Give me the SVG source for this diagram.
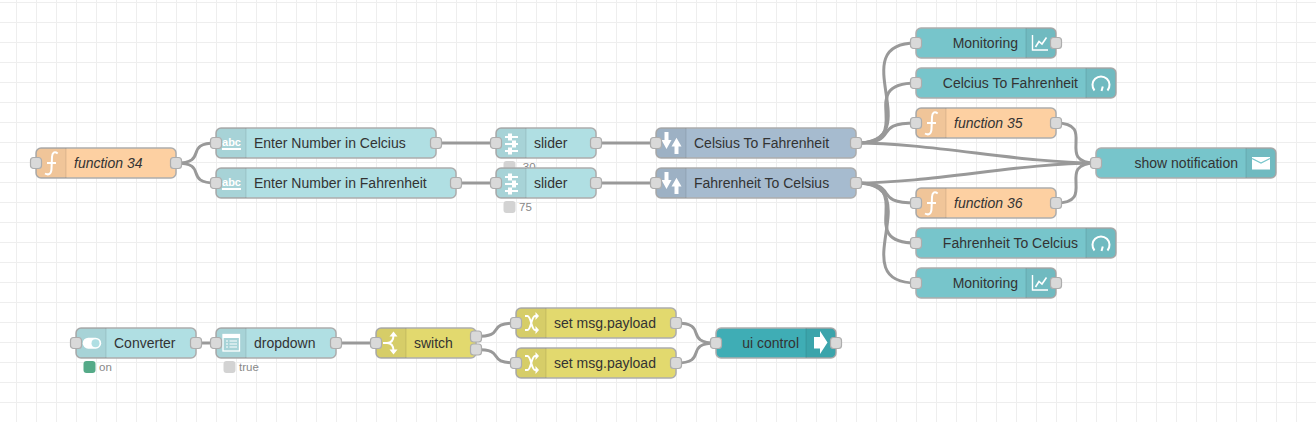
<svg xmlns="http://www.w3.org/2000/svg" width="1316" height="422" viewBox="0 0 1316 422">
<style>
text{font-family:"Liberation Sans",Arial,sans-serif;font-size:14px;fill:#333}
.it{font-style:italic}
.end{text-anchor:end}
.st{font-size:11.5px;fill:#888}
.body{stroke:#adadad;stroke-width:1.5}
.fn{fill:#fdd0a2}.ui{fill:#b0dfe3}.http{fill:#a6bbcf}.dash{fill:#77c5cb}.chg{fill:#e2d96e}.ctl{fill:#3fadb5}
.port{fill:#d9d9d9;stroke:#adadad;stroke-width:1.2}
.stat{fill:#d3d3d3}
.wire{fill:none;stroke:#999;stroke-width:3}
.shade{fill:#000;opacity:.05}
.sep{stroke:#000;stroke-opacity:.1;stroke-width:1}
.ln{fill:none;stroke:#fff;stroke-width:2}
.wf{fill:#fff}
.abc{font-size:11px;font-weight:bold;fill:#fff;text-anchor:middle}
</style>
<defs>
<pattern id="grid" width="20" height="20" patternUnits="userSpaceOnUse" x="16" y="2">
<path d="M0.5 0V20M0 0.5H20" fill="none" stroke="#eee" stroke-width="1"/>
</pattern>
<g id="shL"><path class="shade" d="M5 0H30V30H5A5 5 0 0 1 0 25V5A5 5 0 0 1 5 0Z"/><path class="sep" d="M30 0V30"/></g>
<g id="shR"><path class="shade" d="M0 0H25A5 5 0 0 1 30 5V25A5 5 0 0 1 25 30H0Z"/><path class="sep" d="M0 0V30"/></g>
<path id="iF" class="ln" d="M21.700 5.500C18.500 3 16.200 4.500 16 9L15.500 21C15.300 26 12.500 27.500 9 25.500M11 15H20"/>
<g id="iAbc"><text class="abc" x="15.500" y="18">abc</text><rect class="wf" x="6" y="20" width="19" height="2"/></g>
<g id="iSlider"><path class="ln" d="M9 9H22M9 16H22M9 23H22"/><rect class="wf" x="12" y="5.500" width="4" height="7"/><rect class="wf" x="16" y="12.500" width="4" height="7"/><rect class="wf" x="12" y="19.500" width="4" height="7"/></g>
<g id="iHttp"><path class="wf" d="M8.500 4H12.500V12H15.500L10.500 21L5.500 12H8.500Z"/><path class="wf" d="M18.500 26V18.500H15.500L20.500 9.700L25.500 18.500H22.500V26Z"/></g>
<g id="iChart"><path class="ln" style="stroke-width:1.4" d="M6.500 7V22H22"/><path class="ln" style="stroke-width:1.6" d="M9.500 19L13 13.500L16 16L20.500 9.500"/></g>
<g id="iGauge"><path class="ln" d="M8.500 22.500A8.500 8.500 0 1 1 21.500 22.500"/><path class="ln" d="M15.500 23L16.800 18.500"/></g>
<g id="iMail"><rect class="wf" x="6" y="9" width="18" height="12.500"/><path d="M6 10.500L15 15L24 10.500" fill="none" stroke="#77c5cb" stroke-width="1.300"/></g>
<g id="iToggle"><rect class="wf" x="6.700" y="9.700" width="18.500" height="11" rx="5.500"/><circle cx="19.500" cy="15.200" r="4" fill="#b0dfe3"/></g>
<g id="iDrop"><rect x="7" y="6.500" width="16.500" height="16.500" fill="none" stroke="#fff" stroke-width="1.300"/><rect class="wf" x="7" y="6.500" width="16.500" height="3.500"/><path d="M10 13H12M13.500 13H21M10 16H12M13.500 16H21M10 19H12M13.500 19H21" stroke="#fff" stroke-width="1.100" fill="none"/></g>
<g id="iSwitch"><path class="ln" d="M7 15H11C15 15 17.500 12 17.500 7M11 15C15 15 17.500 18 17.500 23"/><path class="wf" d="M17.500 3.500L21.500 8.500H13.500ZM17.500 26.500L21.500 21.500H13.500Z"/></g>
<g id="iChange"><path class="ln" d="M9 8H11.500C15 8 15.500 22 19 22H20M9 22H11.500C15 22 15.500 8 19 8H20"/><path class="wf" d="M19.500 4L23 8L19.500 12ZM19.500 18L23 22L19.500 26Z"/></g>
<path id="iCtl" class="wf" d="M8 9H14V3L21.500 14.500L14 26V20.500H8Z"/>
</defs>
<rect width="1316" height="422" fill="#fff"/>
<rect width="1316" height="422" fill="url(#grid)"/>
<g id="connectors">
<path class="wire" d="M176 163C209.500 163 182.500 143 216 143"/>
<path class="wire" d="M176 163C209.500 163 182.500 183 216 183"/>
<path class="wire" d="M436 143H496"/>
<path class="wire" d="M456 183H496"/>
<path class="wire" d="M596 143H656"/>
<path class="wire" d="M596 183H656"/>
<path class="wire" d="M856 143C931 143 841 43 916 43"/>
<path class="wire" d="M856 143C919.600 143 852.400 83 916 83"/>
<path class="wire" d="M856 143C903.400 143 868.600 123 916 123"/>
<path class="wire" d="M856 143C931 143 1021 163 1096 163"/>
<path class="wire" d="M856 183C931 183 1021 163 1096 163"/>
<path class="wire" d="M856 183C903.400 183 868.600 203 916 203"/>
<path class="wire" d="M856 183C919.600 183 852.400 243 916 243"/>
<path class="wire" d="M856 183C931 183 841 283 916 283"/>
<path class="wire" d="M1056 123C1098.400 123 1053.600 163 1096 163"/>
<path class="wire" d="M1056 203C1098.400 203 1053.600 163 1096 163"/>
<path class="wire" d="M196 343H216"/>
<path class="wire" d="M336 343H376"/>
<path class="wire" d="M476 336.500C507.700 336.500 484.300 323 516 323"/>
<path class="wire" d="M476 349.500C507.700 349.500 484.300 363 516 363"/>
<path class="wire" d="M676 323C709.500 323 682.500 343 716 343"/>
<path class="wire" d="M676 363C709.500 363 682.500 343 716 343"/>
</g>
<g id="node-function34" transform="translate(36 148)"><rect class="body fn" width="140" height="30" rx="5"/><use href="#shL"/><use href="#iF"/><text class="it" x="38" y="20">function 34</text><rect class="port" x="-5.500" y="9.500" width="11" height="11" rx="3"/><rect class="port" x="134.500" y="9.500" width="11" height="11" rx="3"/></g>
<g id="node-text-celcius" transform="translate(216 128)"><rect class="body ui" width="220" height="30" rx="5"/><use href="#shL"/><use href="#iAbc"/><text x="38" y="20">Enter Number in Celcius</text><rect class="port" x="-5.500" y="9.500" width="11" height="11" rx="3"/><rect class="port" x="214.500" y="9.500" width="11" height="11" rx="3"/></g>
<g id="node-text-fahrenheit" transform="translate(216 168)"><rect class="body ui" width="240" height="30" rx="5"/><use href="#shL"/><use href="#iAbc"/><text x="38" y="20">Enter Number in Fahrenheit</text><rect class="port" x="-5.500" y="9.500" width="11" height="11" rx="3"/><rect class="port" x="234.500" y="9.500" width="11" height="11" rx="3"/></g>
<g id="node-slider1" transform="translate(496 128)"><rect class="stat" x="7.500" y="33" width="12" height="12" rx="3"/><text class="st" x="23" y="43">-30</text><rect class="body ui" width="100" height="30" rx="5"/><use href="#shL"/><use href="#iSlider"/><text x="38" y="20">slider</text><rect class="port" x="-5.500" y="9.500" width="11" height="11" rx="3"/><rect class="port" x="94.500" y="9.500" width="11" height="11" rx="3"/></g>
<g id="node-slider2" transform="translate(496 168)"><rect class="stat" x="7.500" y="33" width="12" height="12" rx="3"/><text class="st" x="23" y="43">75</text><rect class="body ui" width="100" height="30" rx="5"/><use href="#shL"/><use href="#iSlider"/><text x="38" y="20">slider</text><rect class="port" x="-5.500" y="9.500" width="11" height="11" rx="3"/><rect class="port" x="94.500" y="9.500" width="11" height="11" rx="3"/></g>
<g id="node-c2f" transform="translate(656 128)"><rect class="body http" width="200" height="30" rx="5"/><use href="#shL"/><use href="#iHttp"/><text x="38" y="20">Celsius To Fahrenheit</text><rect class="port" x="-5.500" y="9.500" width="11" height="11" rx="3"/><rect class="port" x="194.500" y="9.500" width="11" height="11" rx="3"/></g>
<g id="node-f2c" transform="translate(656 168)"><rect class="body http" width="200" height="30" rx="5"/><use href="#shL"/><use href="#iHttp"/><text x="38" y="20">Fahrenheit To Celsius</text><rect class="port" x="-5.500" y="9.500" width="11" height="11" rx="3"/><rect class="port" x="194.500" y="9.500" width="11" height="11" rx="3"/></g>
<g id="node-monitoring1" transform="translate(916 28)"><rect class="body dash" width="140" height="30" rx="5"/><use href="#shR" x="110"/><use href="#iChart" x="110"/><text class="end" x="102" y="20">Monitoring</text><rect class="port" x="-5.500" y="9.500" width="11" height="11" rx="3"/><rect class="port" x="134.500" y="9.500" width="11" height="11" rx="3"/></g>
<g id="node-gauge1" transform="translate(916 68)"><rect class="body dash" width="200" height="30" rx="5"/><use href="#shR" x="170"/><use href="#iGauge" x="170"/><text class="end" x="162" y="20">Celcius To Fahrenheit</text><rect class="port" x="-5.500" y="9.500" width="11" height="11" rx="3"/></g>
<g id="node-function35" transform="translate(916 108)"><rect class="body fn" width="140" height="30" rx="5"/><use href="#shL"/><use href="#iF"/><text class="it" x="38" y="20">function 35</text><rect class="port" x="-5.500" y="9.500" width="11" height="11" rx="3"/><rect class="port" x="134.500" y="9.500" width="11" height="11" rx="3"/></g>
<g id="node-notification" transform="translate(1096 148)"><rect class="body dash" width="180" height="30" rx="5"/><use href="#shR" x="150"/><use href="#iMail" x="150"/><text class="end" x="142" y="20">show notification</text><rect class="port" x="-5.500" y="9.500" width="11" height="11" rx="3"/></g>
<g id="node-function36" transform="translate(916 188)"><rect class="body fn" width="140" height="30" rx="5"/><use href="#shL"/><use href="#iF"/><text class="it" x="38" y="20">function 36</text><rect class="port" x="-5.500" y="9.500" width="11" height="11" rx="3"/><rect class="port" x="134.500" y="9.500" width="11" height="11" rx="3"/></g>
<g id="node-gauge2" transform="translate(916 228)"><rect class="body dash" width="200" height="30" rx="5"/><use href="#shR" x="170"/><use href="#iGauge" x="170"/><text class="end" x="162" y="20">Fahrenheit To Celcius</text><rect class="port" x="-5.500" y="9.500" width="11" height="11" rx="3"/></g>
<g id="node-monitoring2" transform="translate(916 268)"><rect class="body dash" width="140" height="30" rx="5"/><use href="#shR" x="110"/><use href="#iChart" x="110"/><text class="end" x="102" y="20">Monitoring</text><rect class="port" x="-5.500" y="9.500" width="11" height="11" rx="3"/><rect class="port" x="134.500" y="9.500" width="11" height="11" rx="3"/></g>
<g id="node-converter" transform="translate(76 328)"><rect x="7.500" y="33" width="12" height="12" rx="3" fill="#5a8"/><text class="st" x="23" y="43">on</text><rect class="body ui" width="120" height="30" rx="5"/><use href="#shL"/><use href="#iToggle"/><text x="38" y="20">Converter</text><rect class="port" x="-5.500" y="9.500" width="11" height="11" rx="3"/><rect class="port" x="114.500" y="9.500" width="11" height="11" rx="3"/></g>
<g id="node-dropdown" transform="translate(216 328)"><rect class="stat" x="7.500" y="33" width="12" height="12" rx="3"/><text class="st" x="23" y="43">true</text><rect class="body ui" width="120" height="30" rx="5"/><use href="#shL"/><use href="#iDrop"/><text x="38" y="20">dropdown</text><rect class="port" x="-5.500" y="9.500" width="11" height="11" rx="3"/><rect class="port" x="114.500" y="9.500" width="11" height="11" rx="3"/></g>
<g id="node-switch" transform="translate(376 328)"><rect class="body chg" width="100" height="30" rx="5"/><use href="#shL"/><use href="#iSwitch"/><text x="38" y="20">switch</text><rect class="port" x="-5.500" y="9.500" width="11" height="11" rx="3"/><rect class="port" x="94.500" y="3" width="11" height="11" rx="3"/><rect class="port" x="94.500" y="16" width="11" height="11" rx="3"/></g>
<g id="node-change1" transform="translate(516 308)"><rect class="body chg" width="160" height="30" rx="5"/><use href="#shL"/><use href="#iChange"/><text x="38" y="20">set msg.payload</text><rect class="port" x="-5.500" y="9.500" width="11" height="11" rx="3"/><rect class="port" x="154.500" y="9.500" width="11" height="11" rx="3"/></g>
<g id="node-change2" transform="translate(516 348)"><rect class="body chg" width="160" height="30" rx="5"/><use href="#shL"/><use href="#iChange"/><text x="38" y="20">set msg.payload</text><rect class="port" x="-5.500" y="9.500" width="11" height="11" rx="3"/><rect class="port" x="154.500" y="9.500" width="11" height="11" rx="3"/></g>
<g id="node-uicontrol" transform="translate(716 328)"><rect class="body ctl" width="120" height="30" rx="5"/><use href="#shR" x="90"/><use href="#iCtl" x="90"/><text class="end" x="83" y="20">ui control</text><rect class="port" x="-5.500" y="9.500" width="11" height="11" rx="3"/><rect class="port" x="114.500" y="9.500" width="11" height="11" rx="3"/></g>
</svg>
